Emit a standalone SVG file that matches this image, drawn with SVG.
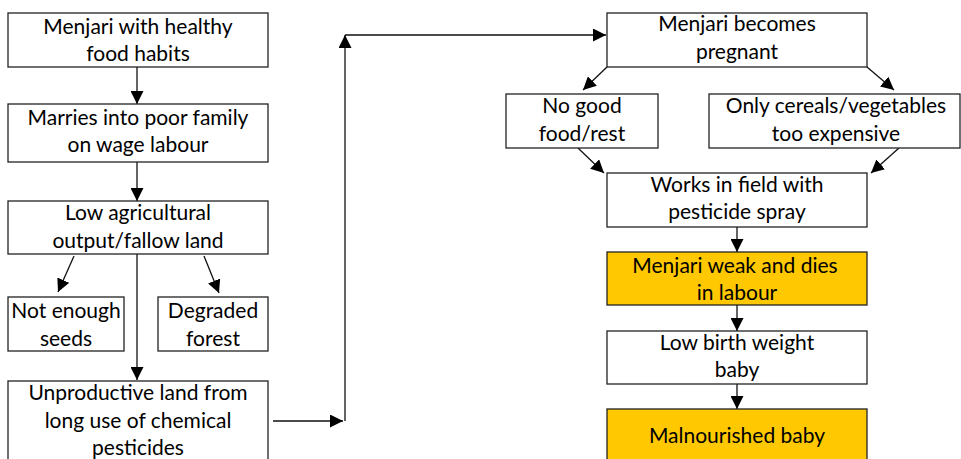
<svg xmlns="http://www.w3.org/2000/svg" width="961" height="459" viewBox="0 0 961 459">
<style>
.box{fill:#fff;stroke:#222;stroke-width:1.3}
.hl{fill:#FFC800;stroke:#222;stroke-width:1.3}
text{font-family:Lato,"Liberation Sans",sans-serif;font-size:21px;fill:#000;text-anchor:middle}
.c line{stroke:#111;stroke-width:1.3;fill:none;marker-end:url(#ah)}
</style>
<defs>
<marker id="ah" markerUnits="userSpaceOnUse" viewBox="0 0 10 10" refX="10" refY="5" markerWidth="13" markerHeight="13" orient="auto">
<path d="M0,0 L10,5 L0,10 z" fill="#000"/>
</marker>
</defs>
<rect width="961" height="459" fill="#fff"/>
<g class="c">
<line x1="137" y1="67" x2="137" y2="104"/>
<line x1="137" y1="162" x2="137" y2="201"/>
<line x1="74" y1="256" x2="58" y2="292"/>
<line x1="204" y1="256" x2="219" y2="293"/>
<line x1="137" y1="254" x2="137" y2="380"/>
<line x1="273" y1="421" x2="343" y2="421"/>
<line x1="345" y1="421" x2="345" y2="35"/>
<line x1="345" y1="35" x2="606" y2="35"/>
<line x1="607" y1="67" x2="583" y2="90"/>
<line x1="867" y1="67" x2="894" y2="90"/>
<line x1="578" y1="148" x2="604" y2="173"/>
<line x1="899" y1="148" x2="871" y2="173"/>
<line x1="737" y1="227" x2="737" y2="252"/>
<line x1="737" y1="305" x2="737" y2="331"/>
<line x1="737" y1="384" x2="737" y2="409"/>
</g>
<g id="n1"><rect class="box" x="8" y="13" width="260" height="54"/><text x="138" y="34">Menjari with healthy</text><text x="138" y="61">food habits</text></g>
<g id="n2"><rect class="box" x="8" y="104" width="260" height="58"/><text x="138" y="125">Marries into poor family</text><text x="138" y="152">on wage labour</text></g>
<g id="n3"><rect class="box" x="8" y="201" width="260" height="53"/><text x="138" y="220">Low agricultural</text><text x="138" y="248">output/fallow land</text></g>
<g id="n4"><rect class="box" x="8" y="297" width="116" height="54"/><text x="66" y="318">Not enough</text><text x="66" y="346">seeds</text></g>
<g id="n5"><rect class="box" x="158" y="297" width="110" height="54"/><text x="213" y="318">Degraded</text><text x="213" y="346">forest</text></g>
<g id="n6"><rect class="box" x="8" y="381" width="260" height="90"/><text x="138" y="400">Unproductive land from</text><text x="138" y="428">long use of chemical</text><text x="138" y="455">pesticides</text></g>
<g id="n7"><rect class="box" x="607" y="13" width="260" height="54"/><text x="737" y="31">Menjari becomes</text><text x="737" y="59">pregnant</text></g>
<g id="n8"><rect class="box" x="506" y="94" width="152" height="54"/><text x="582" y="113">No good</text><text x="582" y="141">food/rest</text></g>
<g id="n9"><rect class="box" x="709" y="94" width="251" height="54"/><text x="836" y="113">Only cereals/vegetables</text><text x="836" y="141">too expensive</text></g>
<g id="n10"><rect class="box" x="607" y="173" width="260" height="54"/><text x="737" y="192">Works in field with</text><text x="737" y="219">pesticide spray</text></g>
<g id="n11"><rect class="hl" x="607" y="252" width="260" height="53"/><text x="735" y="273">Menjari weak and dies</text><text x="737" y="300">in labour</text></g>
<g id="n12"><rect class="box" x="607" y="331" width="260" height="53"/><text x="737" y="350">Low birth weight</text><text x="737" y="377">baby</text></g>
<g id="n13"><rect class="hl" x="607" y="409" width="260" height="60"/><text x="737" y="443">Malnourished baby</text></g>
</svg>
